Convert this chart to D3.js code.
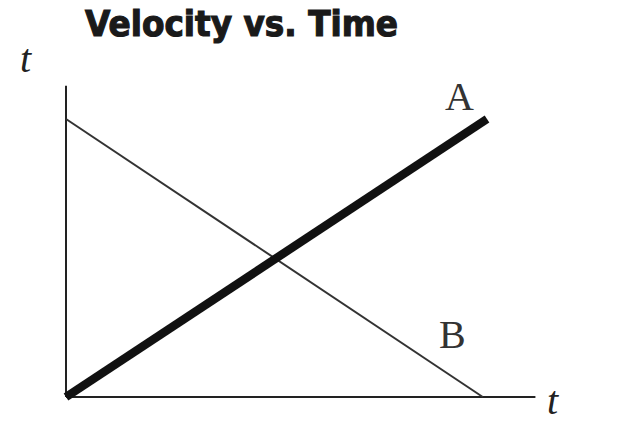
<!DOCTYPE html>
<html><head><meta charset="utf-8">
<script src="https://cdn.jsdelivr.net/npm/d3@7"></script>
<style>html,body{margin:0;padding:0;background:#fff;}svg{display:block;}</style>
</head><body>
<script>
const title = "Velocity vs. Time";
const xAxisLabel = "t";
const yAxisLabel = "t";
const seriesNames = ["A", "B"];
const seriesA = [[0, 0], [10, 10]];
const seriesB = [[0, 10], [9.9, 0]];
const xExtent = [0, 11.15];
const yExtent = [0, 11.2];

const W = 640, H = 433;
const svg = d3.select("body").append("svg").attr("width", W).attr("height", H);
svg.append("rect").attr("width", W).attr("height", H).attr("fill", "#fff");

const x = d3.scaleLinear().domain([0, 10]).range([66, 487]);
const y = d3.scaleLinear().domain([0, 10]).range([397, 119]);

// axes
svg.append("line").attr("x1", x(xExtent[0])).attr("x2", x(xExtent[1]))
  .attr("y1", y(0)).attr("y2", y(0)).attr("stroke", "#222").attr("stroke-width", 2);
svg.append("line").attr("x1", x(0)).attr("x2", x(0))
  .attr("y1", y(yExtent[0])).attr("y2", y(yExtent[1])).attr("stroke", "#222").attr("stroke-width", 2);

const line = d3.line().x(d => x(d[0])).y(d => y(d[1]));
svg.append("path").attr("d", line(seriesB)).attr("fill", "none")
  .attr("stroke", "#333").attr("stroke-width", 2);
svg.append("path").attr("d", line(seriesA)).attr("fill", "none")
  .attr("stroke", "#111").attr("stroke-width", 8.5);

// title
svg.append("text").attr("x", 85).attr("y", 36).text(title)
  .attr("font-family", "DejaVu Sans").attr("font-weight", "bold").attr("font-size", 35)
  .attr("textLength", 313).attr("lengthAdjust", "spacingAndGlyphs").attr("fill", "#1a1a1a")
  .attr("stroke", "#1a1a1a").attr("stroke-width", 1.2);

// series labels
svg.append("text").attr("x", 445).attr("y", 110).text(seriesNames[0])
  .attr("font-family", "Liberation Serif").attr("font-size", 40).attr("fill", "#333");
svg.append("text").attr("x", 439).attr("y", 348).text(seriesNames[1])
  .attr("font-family", "Liberation Serif").attr("font-size", 40).attr("fill", "#333");

// axis labels
svg.append("text").attr("x", 20).attr("y", 72).text(yAxisLabel)
  .attr("font-family", "Liberation Serif").attr("font-style", "italic").attr("font-size", 40).attr("fill", "#222");
svg.append("text").attr("x", 547).attr("y", 414).text(xAxisLabel)
  .attr("font-family", "Liberation Serif").attr("font-style", "italic").attr("font-size", 40).attr("fill", "#222");
</script>
</body></html>
